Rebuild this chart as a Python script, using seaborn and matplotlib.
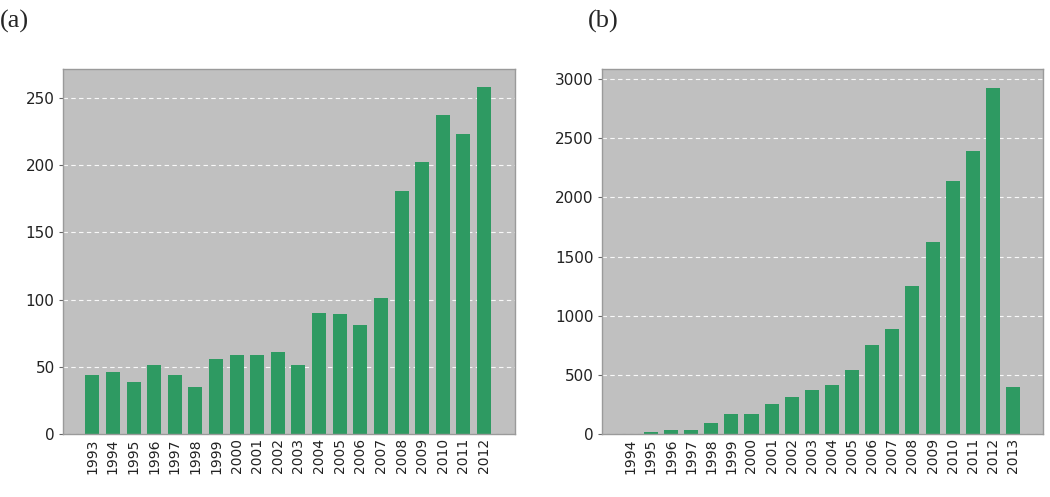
import pandas as pd
import matplotlib
matplotlib.use("Agg")
import matplotlib.pyplot as plt
import seaborn as sns

# --- DATA ---
years_a = [str(y) for y in range(1993, 2013)]
counts_a = [44, 46, 39, 51, 44, 35, 56, 59, 59, 61, 51, 90, 89, 81, 101, 181, 202, 237, 223, 258]

years_b = [str(y) for y in range(1994, 2014)]
counts_b = [3, 20, 30, 30, 90, 165, 165, 255, 310, 370, 415, 545, 755, 885, 1255, 1625, 2140, 2390, 2925, 400]

BAR = "#2e9a62"
BG = "#c0c0c0"

sns.set_style("white")
plt.rcParams["font.family"] = ["DejaVu Sans"]

fig = plt.figure(figsize=(10.5, 4.97), dpi=100)
ax_a = fig.add_axes([63 / 1050, 1 - 434 / 497, 452 / 1050, 365 / 497])
ax_b = fig.add_axes([602 / 1050, 1 - 434 / 497, 441 / 1050, 365 / 497])


def draw(ax, years, counts, ymax, yticks, xlim, width):
    df = pd.DataFrame({"year": years, "count": counts})
    ax.set_facecolor(BG)
    ax.set_axisbelow(True)
    ax.yaxis.grid(True, color="white", linestyle=(0, (4, 3)), linewidth=0.8, alpha=0.9)
    sns.barplot(data=df, x="year", y="count", color=BAR, saturation=1,
                width=width, ax=ax, edgecolor="none")
    ax.set_ylim(0, ymax)
    ax.set_xlim(*xlim)
    ax.set_yticks(yticks)
    ax.set_xlabel("")
    ax.set_ylabel("")
    for s in ax.spines.values():
        s.set_color("#9a9a9a")
        s.set_linewidth(1.0)
    ax.tick_params(axis="x", rotation=90, labelsize=10, length=0, pad=3, colors="#222222")
    ax.tick_params(axis="y", labelsize=11, length=3, width=0.8, color="#666666",
                   left=True, pad=3, labelcolor="#222222")


draw(ax_a, years_a, counts_a, 271.5, [0, 50, 100, 150, 200, 250], (-1.42, 20.5), 0.68)
draw(ax_b, years_b, counts_b, 3085, [0, 500, 1000, 1500, 2000, 2500, 3000], (-1.43, 20.49), 0.7)

fig.text(0.0, 1 - 21 / 497, "(a)", family=["Liberation Serif"], fontsize=19, va="center", ha="left")
fig.text(588 / 1050, 1 - 21 / 497, "(b)", family=["Liberation Serif"], fontsize=19, va="center", ha="left")

fig.savefig("out.png", dpi=100, facecolor="white")
